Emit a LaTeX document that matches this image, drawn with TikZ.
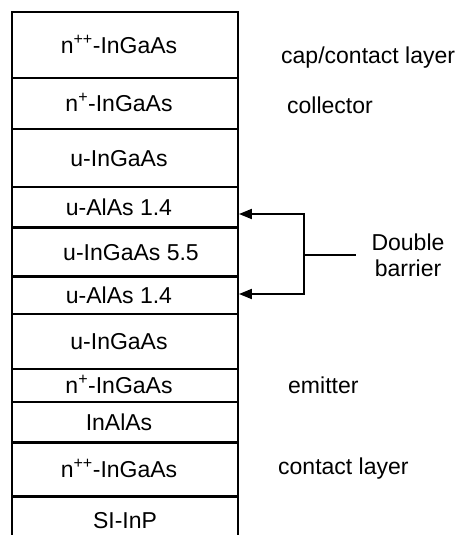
\documentclass[tikz,border=0pt]{standalone}
\usepackage{fontspec}
\setmainfont{Liberation Sans}
\usetikzlibrary{arrows.meta}
\newcommand{\lft}[1]{#1\hspace*{12pt}}
\newcommand{\rgt}[1]{\hspace*{12pt}#1}
\begin{document}
\begin{tikzpicture}[x=1pt,y=-1pt,
  txt/.style={font=\fontsize{23}{26}\selectfont},
  layer/.style={txt, draw, line width=1.9pt, minimum width=226pt, inner sep=0pt, text height=16.5pt, text depth=0pt},
  lbl/.style={txt, anchor=west, inner sep=0pt, text height=16.5pt, text depth=0pt},
  conn/.style={line width=1.9pt},
  tip/.tip={Triangle[length=13pt,width=10pt]}]
\useasboundingbox (0,0) rectangle (457,535);
% layer stack
\node[layer, minimum height=66pt] (L1)  at (125,45)    {\lft{n\textsuperscript{++}-InGaAs}};
\node[layer, minimum height=51pt] (L2)  at (125,103.5) {\lft{n\textsuperscript{+}-InGaAs}};
\node[layer, minimum height=58pt] (L3)  at (125,158)   {\lft{u-InGaAs}};
\node[layer, minimum height=40pt] (L4)  at (125,207)   {\lft{u-AlAs 1.4}};
\node[layer, minimum height=49pt] (L5)  at (125,252.5) {\rgt{u-InGaAs 5.5}};
\node[layer, minimum height=38pt] (L6)  at (125,295)   {\lft{u-AlAs 1.4}};
\node[layer, minimum height=55pt] (L7)  at (125,341.5) {\lft{u-InGaAs}};
\node[layer, minimum height=33pt] (L8)  at (125,385.5) {\lft{n\textsuperscript{+}-InGaAs}};
\node[layer, minimum height=41pt] (L9)  at (125,422.5) {\lft{InAlAs}};
\node[layer, minimum height=54pt] (L10) at (125,469)   {\lft{n\textsuperscript{++}-InGaAs}};
\node[layer, minimum height=46pt] (L11) at (125,520)   {SI-InP};
% right-hand labels
\node[lbl] (cap)  at (281,55)  {cap/contact layer};
\node[lbl] (coll) at (287,105) {collector};
\node[lbl] (emit) at (288,385) {emitter};
\node[lbl] (cont) at (278,466) {contact layer};
\node[txt, align=center, inner sep=0pt] (db) at (408,255) {Double\\barrier};
% double-barrier bracket
\coordinate (h1) at (304,214);
\coordinate (h2) at (304,294);
\coordinate (hm) at (304,255);
\coordinate (hs) at (356,255);
\draw[conn, {tip}-{tip}] (L4.east |- h1) -- (h1) -- (h2) -- (L6.east |- h2);
\draw[conn] (hm) -- (hs);
\end{tikzpicture}
\end{document}
